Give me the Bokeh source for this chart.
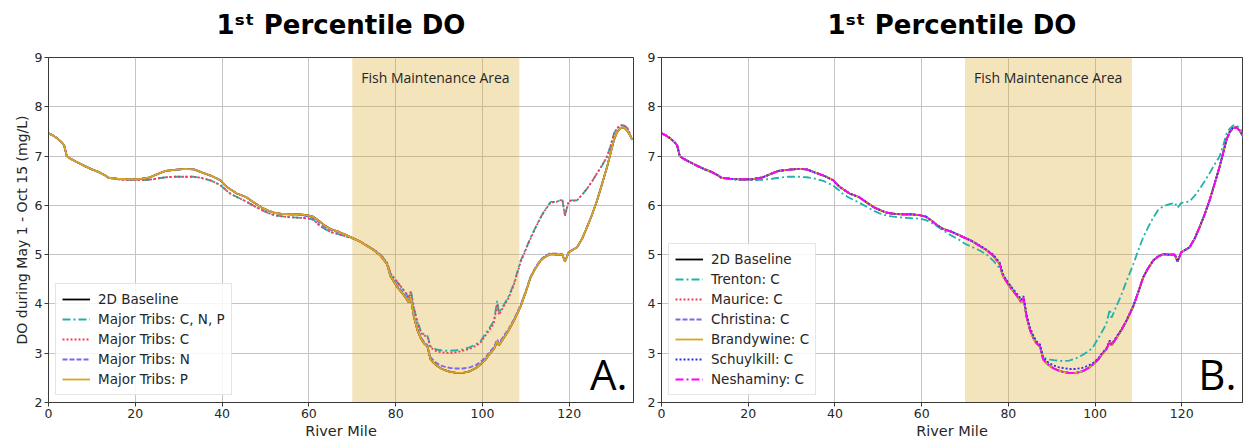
from bokeh.plotting import figure
from bokeh.layouts import row
from bokeh.models import BoxAnnotation, Label, FixedTicker, Title
from bokeh.embed import file_html
from bokeh.resources import INLINE

# ---------------- data ----------------
river_mile = [
    0, 1, 2, 3, 3.6, 4.2, 5, 6.5, 8.5, 10,
    11.5, 13, 13.8, 15.8, 18, 21, 23.4, 25.5, 27, 29,
    31.5, 33.5, 35, 37.5, 39.6, 41, 42, 43.4, 45.5, 47.5,
    49, 50.5, 52, 53.5, 55.5, 57.5, 59.5, 61, 62.6, 63.5,
    65, 67, 68.5, 70, 71.5, 73.5, 75, 76.5, 78, 78.8,
    80.3, 81.5, 82.5, 83, 83.5, 84.2, 85, 85.8, 86.5, 87.3,
    88, 88.8, 89.6, 90.5, 91.5, 92.6, 94, 95.5, 97, 98.5,
    99.5, 100.7, 101.5, 102.6, 103.4, 103.8, 104.9, 106, 107.2, 108.8,
    110, 111.1, 112.2, 113.4, 114.5, 115.7, 117, 118.4, 119, 119.9,
    121.8, 123, 124.1, 125.2, 126.4, 127.5, 128.7, 129.5, 130.3, 131,
    131.8, 132.6, 133.4, 134, 134.5,
]

baseline_do = [
    7.46, 7.42, 7.36, 7.28, 7.22, 7.00, 6.95, 6.88, 6.79, 6.73,
    6.68, 6.61, 6.56, 6.54, 6.53, 6.53, 6.57, 6.65, 6.70, 6.72,
    6.74, 6.73, 6.68, 6.60, 6.51, 6.38, 6.32, 6.24, 6.17, 6.05,
    5.96, 5.90, 5.85, 5.83, 5.82, 5.82, 5.80, 5.77, 5.67, 5.60,
    5.52, 5.46, 5.40, 5.34, 5.28, 5.17, 5.09, 4.98, 4.81, 4.56,
    4.35, 4.22, 4.10, 4.03, 4.12, 3.74, 3.47, 3.30, 3.20, 3.14,
    2.88, 2.80, 2.74, 2.69, 2.65, 2.62, 2.60, 2.60, 2.63, 2.70,
    2.77, 2.87, 2.97, 3.08, 3.24, 3.16, 3.31, 3.46, 3.65, 3.95,
    4.25, 4.54, 4.72, 4.88, 4.96, 5.01, 5.00, 5.00, 4.86, 5.05,
    5.15, 5.33, 5.56, 5.80, 6.10, 6.42, 6.78, 7.05, 7.33, 7.48,
    7.57, 7.58, 7.51, 7.42, 7.33,
]

tribs_cnp_do = [
    7.46, 7.42, 7.36, 7.28, 7.22, 7.00, 6.95, 6.88, 6.79, 6.73,
    6.68, 6.61, 6.56, 6.53, 6.51, 6.51, 6.52, 6.55, 6.57, 6.58,
    6.58, 6.58, 6.56, 6.50, 6.41, 6.30, 6.23, 6.17, 6.08, 5.98,
    5.91, 5.85, 5.80, 5.78, 5.76, 5.75, 5.74, 5.71, 5.58, 5.53,
    5.46, 5.41, 5.37, 5.33, 5.28, 5.18, 5.10, 5.00, 4.84, 4.62,
    4.45, 4.32, 4.20, 4.12, 4.27, 3.92, 3.65, 3.45, 3.38, 3.36,
    3.14, 3.10, 3.07, 3.06, 3.05, 3.05, 3.06, 3.08, 3.12, 3.18,
    3.24, 3.40, 3.50, 3.65, 4.06, 3.82, 3.98, 4.15, 4.40, 4.88,
    5.12, 5.35, 5.55, 5.76, 5.92, 6.07, 6.07, 6.12, 5.80, 6.10,
    6.10, 6.22, 6.34, 6.48, 6.65, 6.80, 6.99, 7.20, 7.46, 7.56,
    7.63, 7.62, 7.57, 7.45, 7.33,
]

tribs_c_do = [
    7.46, 7.42, 7.36, 7.28, 7.22, 7.00, 6.95, 6.88, 6.79, 6.73,
    6.68, 6.61, 6.56, 6.53, 6.51, 6.51, 6.52, 6.55, 6.57, 6.58,
    6.58, 6.58, 6.56, 6.50, 6.41, 6.30, 6.23, 6.17, 6.08, 5.98,
    5.91, 5.85, 5.80, 5.78, 5.76, 5.75, 5.74, 5.71, 5.58, 5.53,
    5.46, 5.41, 5.37, 5.33, 5.28, 5.18, 5.10, 5.00, 4.84, 4.62,
    4.45, 4.32, 4.20, 4.12, 4.25, 3.90, 3.62, 3.42, 3.36, 3.34,
    3.12, 3.07, 3.03, 3.02, 3.01, 3.00, 3.02, 3.05, 3.09, 3.15,
    3.21, 3.36, 3.46, 3.60, 4.00, 3.78, 3.95, 4.12, 4.38, 4.85,
    5.10, 5.33, 5.54, 5.75, 5.91, 6.06, 6.07, 6.12, 5.78, 6.09,
    6.10, 6.22, 6.34, 6.48, 6.65, 6.80, 6.99, 7.20, 7.46, 7.56,
    7.63, 7.62, 7.57, 7.45, 7.33,
]

tribs_n_do = [
    7.46, 7.42, 7.36, 7.28, 7.22, 7.00, 6.95, 6.88, 6.79, 6.73,
    6.68, 6.61, 6.56, 6.54, 6.53, 6.53, 6.57, 6.65, 6.70, 6.72,
    6.74, 6.73, 6.68, 6.60, 6.51, 6.38, 6.32, 6.24, 6.17, 6.05,
    5.96, 5.90, 5.85, 5.83, 5.82, 5.81, 5.78, 5.74, 5.64, 5.57,
    5.50, 5.45, 5.40, 5.34, 5.28, 5.17, 5.09, 4.98, 4.81, 4.58,
    4.38, 4.25, 4.13, 4.06, 4.14, 3.77, 3.50, 3.33, 3.23, 3.17,
    2.92, 2.85, 2.79, 2.75, 2.72, 2.70, 2.69, 2.69, 2.71, 2.76,
    2.82, 2.91, 3.01, 3.12, 3.28, 3.20, 3.35, 3.49, 3.68, 3.98,
    4.27, 4.56, 4.74, 4.90, 4.98, 5.03, 5.02, 5.01, 4.88, 5.06,
    5.15, 5.33, 5.56, 5.80, 6.10, 6.42, 6.78, 7.05, 7.33, 7.48,
    7.57, 7.58, 7.51, 7.42, 7.33,
]

tribs_p_do = list(baseline_do)

trenton_do = [
    7.46, 7.42, 7.36, 7.28, 7.22, 7.00, 6.95, 6.88, 6.79, 6.73,
    6.68, 6.61, 6.56, 6.53, 6.51, 6.51, 6.52, 6.54, 6.56, 6.58,
    6.58, 6.57, 6.55, 6.49, 6.40, 6.30, 6.22, 6.15, 6.06, 5.96,
    5.89, 5.83, 5.79, 5.77, 5.75, 5.74, 5.73, 5.70, 5.63, 5.58,
    5.49, 5.38, 5.31, 5.22, 5.16, 5.08, 5.00, 4.88, 4.72, 4.58,
    4.40, 4.22, 4.13, 4.05, 4.12, 3.75, 3.48, 3.32, 3.22, 3.16,
    2.92, 2.89, 2.87, 2.86, 2.85, 2.84, 2.85, 2.89, 2.96, 3.04,
    3.12, 3.30, 3.42, 3.60, 3.89, 3.72, 3.95, 4.17, 4.45, 4.80,
    5.10, 5.35, 5.55, 5.75, 5.90, 5.98, 6.02, 6.05, 5.95, 6.05,
    6.08, 6.20, 6.33, 6.48, 6.65, 6.82, 6.99, 7.20, 7.45, 7.55,
    7.62, 7.62, 7.57, 7.45, 7.33,
]

maurice_do = list(baseline_do)
christina_do = list(baseline_do)
brandywine_do = list(baseline_do)

schuylkill_do = [
    7.46, 7.42, 7.36, 7.28, 7.22, 7.00, 6.95, 6.88, 6.79, 6.73,
    6.68, 6.61, 6.56, 6.54, 6.53, 6.53, 6.57, 6.65, 6.70, 6.72,
    6.74, 6.73, 6.68, 6.60, 6.51, 6.38, 6.32, 6.24, 6.17, 6.05,
    5.96, 5.90, 5.85, 5.83, 5.82, 5.82, 5.80, 5.77, 5.67, 5.60,
    5.52, 5.46, 5.40, 5.34, 5.28, 5.18, 5.10, 5.00, 4.84, 4.60,
    4.38, 4.26, 4.15, 4.08, 4.16, 3.78, 3.52, 3.35, 3.24, 3.18,
    2.92, 2.84, 2.79, 2.75, 2.72, 2.70, 2.68, 2.68, 2.70, 2.75,
    2.80, 2.89, 2.99, 3.10, 3.26, 3.18, 3.33, 3.47, 3.66, 3.96,
    4.25, 4.54, 4.72, 4.88, 4.96, 5.01, 5.00, 5.00, 4.86, 5.05,
    5.15, 5.33, 5.56, 5.80, 6.10, 6.42, 6.78, 7.05, 7.33, 7.48,
    7.57, 7.58, 7.51, 7.42, 7.33,
]

neshaminy_do = list(baseline_do)

x_ticks = [0, 20, 40, 60, 80, 100, 120]
y_ticks = [2, 3, 4, 5, 6, 7, 8, 9]
x_min = 0
x_max_left = 134.8
x_max_right = 134.0
y_min, y_max = 2, 9
band_start, band_end = 70, 108.5

title_text = "1\u02e2\u1d57 Percentile DO"
x_label = "River Mile"
y_label = "DO during May 1 - Oct 15 (mg/L)"
band_text = "Fish Maintenance Area"

for arr in [baseline_do, tribs_cnp_do, tribs_c_do, tribs_n_do, trenton_do, schuylkill_do]:
    assert len(arr) == len(river_mile), len(arr)

# ---------------- styles ----------------
TEAL = "#20b2aa"
RED = "#ee3f58"
PURPLE = "#7b68ee"
GOLD = "#daa520"
BLUE = "#3030e0"
MAGENTA = "#ff00ff"
DASHDOT = "8 3 2 3"
DOTTED = "2 2"
DASHED = "5 2"
TXT = "#262626"

series_a = [
    ("2D Baseline", baseline_do, "black", "solid"),
    ("Major Tribs: C, N, P", tribs_cnp_do, TEAL, DASHDOT),
    ("Major Tribs: C", tribs_c_do, RED, DOTTED),
    ("Major Tribs: N", tribs_n_do, PURPLE, DASHED),
    ("Major Tribs: P", tribs_p_do, GOLD, "solid"),
]
series_b = [
    ("2D Baseline", baseline_do, "black", "solid"),
    ("Trenton: C", trenton_do, TEAL, DASHDOT),
    ("Maurice: C", maurice_do, RED, DOTTED),
    ("Christina: C", christina_do, PURPLE, DASHED),
    ("Brandywine: C", brandywine_do, GOLD, "solid"),
    ("Schuylkill: C", schuylkill_do, BLUE, DOTTED),
    ("Neshaminy: C", neshaminy_do, MAGENTA, DASHDOT),
]


def make_panel(series, letter, width, x_max, border_left, border_right, show_ylabel, title_shift):
    p = figure(width=width, height=441, x_range=(x_min, x_max), y_range=(y_min, y_max),
               output_backend="svg", toolbar_location=None,
               min_border_left=border_left, min_border_right=border_right,
               min_border_top=57, min_border_bottom=39)
    p.title.text = title_text
    p.title.align = "center"
    p.title.offset = title_shift
    p.title.text_font = "DejaVu Sans"
    p.title.text_font_size = "26px"
    p.title.text_font_style = "bold"
    p.title.text_color = "black"
    p.title.standoff = 11
    # thin empty spacer between the title and the frame
    p.add_layout(Title(text="\u00a0", text_font_size="9px", standoff=0), "above")

    p.outline_line_color = "#3a3a3a"
    p.outline_line_width = 1
    p.background_fill_color = "white"
    p.border_fill_color = "white"

    p.xaxis.ticker = FixedTicker(ticks=x_ticks)
    p.yaxis.ticker = FixedTicker(ticks=y_ticks)
    for ax in (p.xaxis, p.yaxis):
        ax.axis_line_color = "#3a3a3a"
        ax.major_tick_line_color = "#3a3a3a"
        ax.major_tick_out = 4
        ax.major_tick_in = 0
        ax.minor_tick_line_color = None
        ax.major_label_text_font = "DejaVu Sans"
        ax.major_label_text_font_size = "12.5px"
        ax.major_label_text_color = TXT
        ax.major_label_standoff = 2
        ax.axis_label_text_font = "DejaVu Sans"
        ax.axis_label_text_font_size = "14.5px"
        ax.axis_label_text_font_style = "normal"
        ax.axis_label_text_color = TXT
        ax.axis_label_standoff = 2
    p.yaxis.axis_label_text_font_size = "14px"
    p.xaxis.axis_label = x_label
    if show_ylabel:
        p.yaxis.axis_label = y_label

    p.xgrid.ticker = FixedTicker(ticks=x_ticks)
    p.ygrid.ticker = FixedTicker(ticks=y_ticks)
    p.grid.grid_line_color = "#c4c4c4"
    p.grid.grid_line_width = 1

    band = BoxAnnotation(left=band_start, right=band_end, fill_color=GOLD, fill_alpha=0.3,
                         line_color=None, level="underlay")
    p.add_layout(band)

    p.add_layout(Label(x=band_start, y=y_max, x_offset=9, y_offset=-10, text=band_text,
                       text_font="Open Sans", text_font_size="14px", text_color=TXT,
                       text_baseline="top", text_align="left"))
    p.add_layout(Label(x=x_max, y=y_min, x_offset=-6, y_offset=1, text=letter,
                       text_font="Open Sans", text_font_size="42px", text_color="black",
                       text_baseline="bottom", text_align="right"))

    for name, vals, color, dash in series:
        p.line(river_mile, vals, line_color=color, line_width=1.8, line_dash=dash,
               legend_label=name)

    lg = p.legend[0]
    lg.location = "bottom_left"
    lg.margin = 7
    lg.padding = 6
    lg.spacing = 2
    lg.glyph_width = 28
    lg.glyph_height = 18
    lg.label_height = 18
    lg.label_standoff = 8
    lg.label_text_font = "DejaVu Sans"
    lg.label_text_font_size = "13.5px"
    lg.label_text_color = TXT
    lg.border_line_color = "#cccccc"
    lg.border_line_width = 1
    lg.background_fill_color = "white"
    lg.background_fill_alpha = 0.85
    return p


pa = make_panel(series_a, "A.", 640, x_max_left, 48, 7, True, -9)
pb = make_panel(series_b, "B.", 603, x_max_right, 21, 1, False, -7)

layout = row(pa, pb)
open("out.html", "w").write(file_html(layout, INLINE))
